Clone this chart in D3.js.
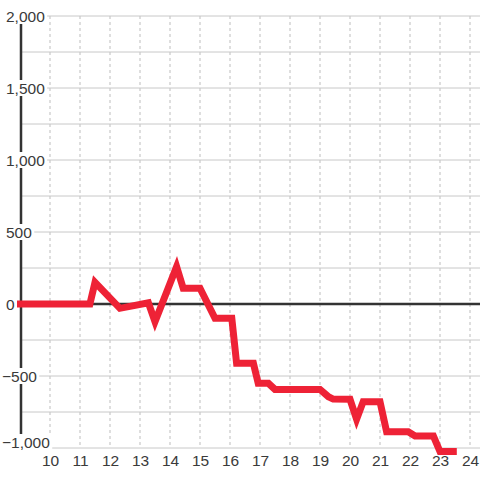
<!DOCTYPE html>
<html>
<head>
<meta charset="utf-8">
<script src="https://cdn.jsdelivr.net/npm/d3@7"></script>
<style>
body { margin: 0; background: #fff; }
text { font-family: "Liberation Sans", Arial, sans-serif; font-size: 15.5px; fill: #3a3a3a; }
</style>
</head>
<body>
<div id="graph"></div>
<script>
// hour of day / running value
var hours  = [8.9, 11.33, 11.5, 12.33, 13.28, 13.5, 14.22, 14.44, 15.0, 15.5, 16.06, 16.22, 16.78, 16.94, 17.28, 17.5, 19.0, 19.28, 19.44, 20.0, 20.22, 20.44, 21.0, 21.22, 21.94, 22.17, 22.78, 23.0, 23.56];
var values = [0, 0, 150, -30, 8, -123, 259, 109, 109, -99, -99, -412, -412, -551, -551, -593, -593, -644, -660, -662, -800, -678, -678, -887, -887, -917, -917, -1025, -1025];

var xTicks = [10, 11, 12, 13, 14, 15, 16, 17, 18, 19, 20, 21, 22, 23, 24];
var yTicks = [-1000, -500, 0, 500, 1000, 1500, 2000];
var yGrid  = [-1000, -750, -500, -250, 0, 250, 500, 750, 1000, 1250, 1500, 1750, 2000];

var w = 480;
var h = 480;
var margin = { top: 16, bottom: 32, left: 20, right: 0 };
var width = w - margin.left - margin.right;
var height = h - margin.top - margin.bottom;

var svg = d3.select("#graph").append("svg")
    .attr("width", w)
    .attr("height", h);
var chart = svg.append("g")
    .attr("transform", "translate(" + margin.left + "," + margin.top + ")");

var x = d3.scaleLinear().domain([9, 24.3333]).range([0, width]);
var y = d3.scaleLinear().domain([-1000, 2000]).range([height, 0]);

var data = hours.map(function(d, i){ return { h: d, v: values[i] }; });

// vertical dashed grid
chart.selectAll(".vgrid")
    .data(xTicks)
    .enter()
    .append("line")
    .classed("vgrid", true)
    .attr("x1", function(d){ return x(d); })
    .attr("x2", function(d){ return x(d); })
    .attr("y1", 0)
    .attr("y2", height)
    .attr("stroke", "#bdbdbd")
    .attr("stroke-dasharray", "3,3");

// horizontal grid
chart.selectAll(".hgrid")
    .data(yGrid)
    .enter()
    .append("line")
    .classed("hgrid", true)
    .attr("x1", 0)
    .attr("x2", width)
    .attr("y1", function(d){ return y(d); })
    .attr("y2", function(d){ return y(d); })
    .attr("stroke", "#c8c8c8");

// zero line
chart.append("line")
    .attr("x1", 0).attr("x2", width)
    .attr("y1", y(0)).attr("y2", y(0))
    .attr("stroke", "#333")
    .attr("stroke-width", 2.5);

// y axis line
chart.append("line")
    .attr("x1", 1).attr("x2", 1)
    .attr("y1", 0).attr("y2", height)
    .attr("stroke", "#333")
    .attr("stroke-width", 2.5);

// y labels with white background (bottom one sits above its line)
var yLab = chart.selectAll(".ylab")
    .data(yTicks)
    .enter()
    .append("g")
    .classed("ylab", true)
    .attr("transform", function(d){
        var dy = d === yTicks[0] ? -6 : 0;
        return "translate(" + (d < 0 ? -18 : -14) + "," + (y(d) + dy) + ")";
    });
yLab.append("rect");
yLab.append("text")
    .attr("y", 5.5)
    .style("text-anchor", "start")
    .text(function(d){ return d3.format(",")(d); });
yLab.each(function(){
    var g = d3.select(this);
    var b = g.select("text").node().getBBox();
    g.select("rect")
        .attr("x", b.x - 1)
        .attr("y", -8)
        .attr("width", b.width + 3)
        .attr("height", 16)
        .attr("fill", "#fff");
});

// the series
var line = d3.line()
    .x(function(d){ return x(d.h); })
    .y(function(d){ return y(d.v); });
chart.append("path")
    .datum(data)
    .attr("d", line)
    .attr("fill", "none")
    .attr("stroke", "#ee2236")
    .attr("stroke-width", 7)
    .attr("stroke-linejoin", "miter");

// x labels
var xAxis = d3.axisBottom(x)
    .tickValues(xTicks)
    .tickSize(0)
    .tickPadding(0)
    .tickFormat(d3.format("d"));
var gx = chart.append("g")
    .attr("transform", "translate(0," + height + ")")
    .call(xAxis);
gx.select(".domain").remove();
gx.selectAll("text")
    .attr("y", 18)
    .attr("dy", 0)
    .attr("fill", "#3a3a3a")
    .style("font-size", "15.5px")
    .style("font-family", "\"Liberation Sans\", Arial, sans-serif");
</script>
</body>
</html>
